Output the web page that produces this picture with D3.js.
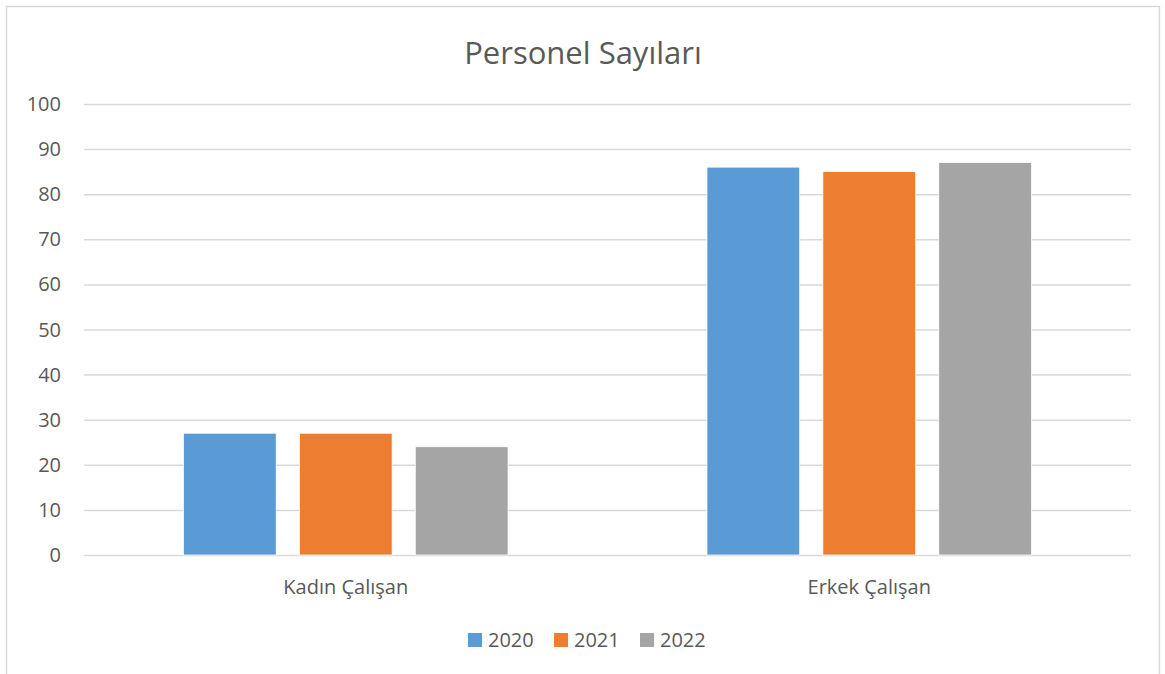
<!DOCTYPE html>
<html>
<head>
<meta charset="utf-8">
<script src="https://cdn.jsdelivr.net/npm/d3@7"></script>
<style>
  body { margin: 0; background: #fff; }
  text { font-family: "Open Sans", "Noto Sans", sans-serif; fill: #595959; }
</style>
</head>
<body>
<div id="chart"></div>
<script>
// chart data
var categories = ["Kadın Çalışan", "Erkek Çalışan"];
var years = ["2020", "2021", "2022"];
var values2020 = [27, 86];
var values2021 = [27, 85];
var values2022 = [24, 87];
var colors = ["#5b9bd5", "#ed7d31", "#a5a5a5"];
var yTicks = [0, 10, 20, 30, 40, 50, 60, 70, 80, 90, 100];

var seriesValues = [values2020, values2021, values2022];

var width = 1165, height = 674;
var svg = d3.select("#chart").append("svg")
	.attr("width", width)
	.attr("height", height);

// outer border
svg.append("rect")
	.attr("x", 6.5).attr("y", 6.5)
	.attr("width", 1153).attr("height", 680)
	.style("fill", "#fff")
	.style("stroke", "#d9d9d9")
	.style("stroke-width", 1.5);

var y = d3.scaleLinear().domain([0, 100]).range([555, 104]);
var x0 = d3.scaleBand().domain(categories).range([84, 1131]);
var x1 = d3.scaleBand().domain(years)
	.range([x0.bandwidth() * 0.19, x0.bandwidth() * 0.81])
	.paddingInner(0.2);

// gridlines
svg.append("g").selectAll("line")
	.data(yTicks)
	.enter().append("line")
	.attr("x1", 84).attr("x2", 1131)
	.attr("y1", function(d) { return y(d) + 0.5; })
	.attr("y2", function(d) { return y(d) + 0.5; })
	.style("stroke", "#d9d9d9")
	.style("stroke-width", 1.5);

// y labels
svg.append("g").selectAll("text")
	.data(yTicks)
	.enter().append("text")
	.attr("x", 61)
	.attr("y", function(d) { return y(d); })
	.attr("dy", "0.35em")
	.attr("text-anchor", "end")
	.style("font-size", "20px")
	.text(function(d) { return d; });

// bars
var groups = svg.append("g").selectAll("g")
	.data(categories)
	.enter().append("g")
	.attr("transform", function(d) { return "translate(" + x0(d) + ",0)"; });

groups.selectAll("rect")
	.data(function(c, ci) {
		return years.map(function(yr, si) { return { year: yr, value: seriesValues[si][ci], color: colors[si] }; });
	})
	.enter().append("rect")
	.attr("x", function(d) { return x1(d.year); })
	.attr("y", function(d) { return y(d.value); })
	.attr("width", x1.bandwidth())
	.attr("height", function(d) { return y(0) - y(d.value); })
	.style("fill", function(d) { return d.color; })
	.style("stroke", "#fff")
	.style("stroke-width", 0.75);

// category labels
svg.append("g").selectAll("text")
	.data(categories)
	.enter().append("text")
	.attr("x", function(d) { return x0(d) + x0.bandwidth() / 2; })
	.attr("y", 594)
	.attr("text-anchor", "middle")
	.style("font-size", "20px")
	.text(function(d) { return d; });

// title
svg.append("text")
	.attr("x", 583)
	.attr("y", 64)
	.attr("text-anchor", "middle")
	.style("font-size", "31px")
	.text("Personel Sayıları");

// legend
var legendX = [468, 554, 640];
var legend = svg.append("g").selectAll("g")
	.data(years)
	.enter().append("g")
	.attr("transform", function(d, i) { return "translate(" + legendX[i] + ",633)"; });
legend.append("rect")
	.attr("width", 14).attr("height", 14)
	.style("fill", function(d, i) { return colors[i]; });
legend.append("text")
	.attr("x", 20).attr("y", 7)
	.attr("dy", "0.35em")
	.style("font-size", "20px")
	.text(function(d) { return d; });
</script>
</body>
</html>
